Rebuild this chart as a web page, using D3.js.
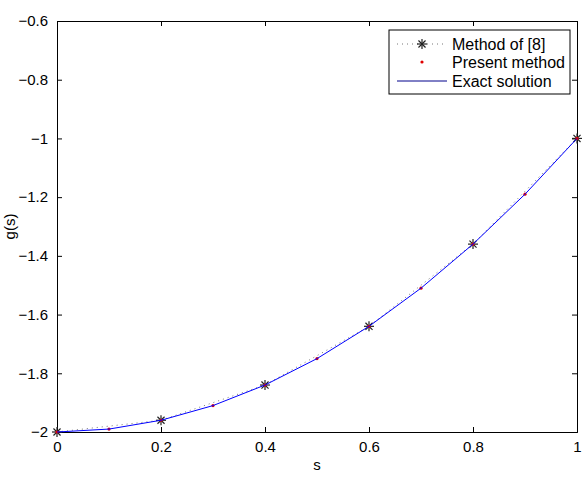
<!DOCTYPE html>
<html>
<head>
<meta charset="utf-8">
<script src="https://cdn.jsdelivr.net/npm/d3@7"></script>
<style>
  body { margin: 0; background: #fff; }
  text { font-family: "Liberation Sans", Arial, sans-serif; }
</style>
</head>
<body>
<div id="chart"></div>
<script>
var chartWidth = 584;
var chartHeight = 478;

// values
var sFine = [0, 0.1, 0.2, 0.3, 0.4, 0.5, 0.6, 0.7, 0.8, 0.9, 1];
var gExact = [-2, -1.99, -1.96, -1.91, -1.84, -1.75, -1.64, -1.51, -1.36, -1.19, -1];
var gPresent = [-2, -1.99, -1.96, -1.91, -1.84, -1.75, -1.64, -1.51, -1.36, -1.19, -1];
var sCoarse = [0, 0.2, 0.4, 0.6, 0.8, 1];
var gMethod8 = [-2, -1.96, -1.84, -1.64, -1.36, -1];
var xTicks = [0, 0.2, 0.4, 0.6, 0.8, 1];
var yTicks = [-2, -1.8, -1.6, -1.4, -1.2, -1, -0.8, -0.6];
var legendNames = ["Method of [8]", "Present method", "Exact solution"];

var margin = { left: 57, right: 7, top: 21, bottom: 46 };
var plotW = chartWidth - margin.left - margin.right;
var plotH = chartHeight - margin.top - margin.bottom;

var svg = d3.select("#chart")
  .append("svg")
  .attr("width", chartWidth)
  .attr("height", chartHeight);

var g = svg.append("g")
  .attr("transform", "translate(" + margin.left + "," + margin.top + ")");

var x = d3.scaleLinear().domain([0, 1]).range([0, plotW]);
var y = d3.scaleLinear().domain([-2, -0.6]).range([plotH, 0]);

var fmt = d3.format("");

// axes with inward ticks, MATLAB style box
var xAxis = g.append("g")
  .attr("transform", "translate(0," + plotH + ")")
  .call(d3.axisBottom(x).tickValues(xTicks).tickSize(-5).tickPadding(9).tickFormat(fmt));
var xTop = g.append("g")
  .call(d3.axisTop(x).tickValues(xTicks).tickSize(-5).tickFormat(""));
var yAxis = g.append("g")
  .call(d3.axisLeft(y).tickValues(yTicks).tickSize(-5).tickPadding(9).tickFormat(fmt));
var yRight = g.append("g")
  .attr("transform", "translate(" + plotW + ",0)")
  .call(d3.axisRight(y).tickValues(yTicks).tickSize(-5).tickFormat(""));

[xAxis, xTop, yAxis, yRight].forEach(function (a) {
  a.select(".domain").attr("stroke", "#000").attr("stroke-width", 1);
  a.selectAll(".tick line").attr("stroke", "#000");
  a.selectAll("text").attr("font-size", 15).attr("fill", "#000");
});

// axis labels
svg.append("text")
  .attr("x", margin.left + plotW / 2)
  .attr("y", 470)
  .attr("text-anchor", "middle")
  .attr("font-size", 15)
  .text("s");
svg.append("text")
  .attr("transform", "translate(15," + (margin.top + plotH / 2) + ") rotate(-90)")
  .attr("text-anchor", "middle")
  .attr("font-size", 15)
  .text("g(s)");

var lineGen = d3.line()
  .x(function (d) { return x(d[0]); })
  .y(function (d) { return y(d[1]); });

// Method of [8]: dotted line with asterisks
var method8 = sCoarse.map(function (s, i) { return [s, gMethod8[i]]; });
g.append("path")
  .datum(method8)
  .attr("d", lineGen)
  .attr("fill", "none")
  .attr("stroke", "#777")
  .attr("stroke-width", 1)
  .attr("stroke-dasharray", "1,4");

function asterisk(sel, r) {
  [0, 45, 90, 135].forEach(function (a) {
    var rad = a * Math.PI / 180;
    sel.append("line")
      .attr("x1", -r * Math.cos(rad)).attr("y1", -r * Math.sin(rad))
      .attr("x2", r * Math.cos(rad)).attr("y2", r * Math.sin(rad))
      .attr("stroke", "#222").attr("stroke-width", 1.2);
  });
}

g.selectAll(".star")
  .data(method8)
  .enter()
  .append("g")
  .attr("class", "star")
  .attr("transform", function (d) { return "translate(" + x(d[0]) + "," + y(d[1]) + ")"; })
  .each(function () { asterisk(d3.select(this), 5); });

// Present method: red dots
var present = sFine.map(function (s, i) { return [s, gPresent[i]]; });
g.selectAll(".dot")
  .data(present)
  .enter()
  .append("circle")
  .attr("class", "dot")
  .attr("cx", function (d) { return x(d[0]); })
  .attr("cy", function (d) { return y(d[1]); })
  .attr("r", 1.6)
  .attr("fill", "#e00000");

// Exact solution: blue line
var exact = sFine.map(function (s, i) { return [s, gExact[i]]; });
g.append("path")
  .datum(exact)
  .attr("d", lineGen)
  .attr("fill", "none")
  .attr("stroke", "#0000ff")
  .attr("stroke-width", 1);

// Legend
var legend = svg.append("g").attr("transform", "translate(389,30)");
legend.append("rect")
  .attr("width", 181)
  .attr("height", 64)
  .attr("fill", "#fff")
  .attr("stroke", "#000")
  .attr("stroke-width", 1);

var rowY = [14, 32, 51];
legendNames.forEach(function (name, i) {
  var row = legend.append("g").attr("transform", "translate(0," + rowY[i] + ")");
  if (i === 0) {
    row.append("line").attr("x1", 8).attr("x2", 58).attr("y1", 0).attr("y2", 0)
      .attr("stroke", "#777").attr("stroke-dasharray", "1,4");
    asterisk(row.append("g").attr("transform", "translate(33,0)"), 5);
  } else if (i === 1) {
    row.append("circle").attr("cx", 33).attr("cy", 0).attr("r", 1.6).attr("fill", "#e00000");
  } else {
    row.append("line").attr("x1", 8).attr("x2", 58).attr("y1", 0).attr("y2", 0)
      .attr("stroke", "#00008b").attr("stroke-width", 1);
  }
  row.append("text")
    .attr("x", 63)
    .attr("y", 6)
    .attr("font-size", 16)
    .text(name);
});
</script>
</body>
</html>
